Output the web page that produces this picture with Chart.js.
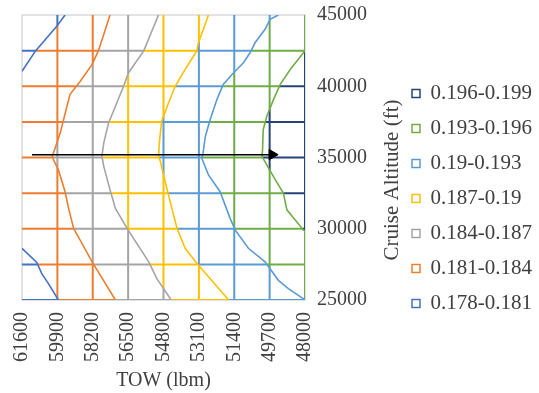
<!DOCTYPE html>
<html>
<head>
<meta charset="utf-8">
<script src="https://cdn.jsdelivr.net/npm/chart.js@4.4.1/dist/chart.umd.min.js"></script>
<style>
  html, body { margin: 0; padding: 0; background: #fff; }
  #wrap { width: 539px; height: 393px; }
</style>
</head>
<body>
<div id="wrap"><canvas id="chart"></canvas></div>
<script>
// axis ticks
const xTicks = [61600, 59900, 58200, 56500, 54800, 53100, 51400, 49700, 48000];
const yTicks = [25000, 30000, 35000, 40000, 45000];
// wireframe lines (left edge and top edge are the plot border)
const gridTows = [59900, 58200, 56500, 54800, 53100, 51400, 49700, 48000];
const gridAlts = [25000, 27500, 30000, 32500, 35000, 37500, 40000, 42500];

const bands = ["0.178-0.181", "0.181-0.184", "0.184-0.187", "0.187-0.19", "0.19-0.193", "0.193-0.196", "0.196-0.199"];
const bandColors = ["#4472C4", "#ED7D31", "#A5A5A5", "#FFC000", "#5B9BD5", "#70AD47", "#264478"];

// contour lines [TOW, altitude]
const c181top = [[59530, 45000], [59920, 44230], [60950, 42480], [61600, 41050]];
const c181bottom = [[61600, 28630], [60890, 27630], [60650, 26850], [60330, 26150], [59850, 25000]];
const c184 = [[57370, 45000], [57930, 42480], [58230, 41530], [58800, 40350], [59290, 39430], [59440, 38600], [59760, 36730], [60090, 35300], [60150, 35130], [60090, 34850], [59850, 34130], [59530, 32600], [59360, 31430], [59120, 30030], [58230, 27680], [57110, 25000]];
const c187 = [[55040, 45000], [55750, 42480], [56480, 40950], [56720, 40000], [57110, 38600], [57440, 37430], [57670, 36030], [57760, 35080], [57670, 34380], [57370, 32730], [57110, 31430], [56550, 30030], [55510, 27680], [55120, 26500], [54430, 25000]];
const c190 = [[52640, 45000], [53120, 43050], [53200, 42480], [53760, 41180], [54240, 40000], [54560, 38830], [54890, 37530], [55000, 36030], [55040, 35080], [54950, 34730], [54800, 33780], [54480, 31900], [54150, 30030], [53760, 28630], [53200, 27580], [51670, 25000]];
const c193 = [[49280, 45000], [49680, 44700], [49920, 44000], [50400, 43050], [50640, 42350], [50960, 41650], [51430, 40950], [51930, 40130], [52230, 39080], [52560, 37650], [52790, 36480], [52910, 35200], [52960, 34950], [52640, 33780], [52080, 32600], [51600, 30730], [51350, 29900], [50720, 28630], [49920, 27680], [49280, 26380], [48800, 25800], [48090, 25100], [48000, 25000]];
const c196 = [[48000, 42500], [48710, 41180], [49190, 40130], [49510, 39080], [49840, 37880], [50010, 36950], [50040, 35550], [50070, 35080], [49750, 34250], [49280, 33080], [49040, 32500], [48870, 31330], [48070, 29900], [48000, 29850]];

// arrow annotation
const arrowLine = [[61120, 35200], [49580, 35200]];

const FONT = "'Liberation Serif', 'Times New Roman', serif";
const TEXT = "#404040";

// level i separates band i and band i+1; "outside" = boundary where the line is missing
const contours = [
  { pieces: [c181top, c181bottom], outside: Infinity },
  { pieces: [c184], outside: Infinity },
  { pieces: [c187], outside: Infinity },
  { pieces: [c190], outside: Infinity },
  { pieces: [c193], outside: Infinity },
  { pieces: [c196], outside: -Infinity },
];

function boundaryTow(c, alt) {
  for (const piece of c.pieces) {
    for (let i = 0; i < piece.length - 1; i++) {
      const [t0, a0] = piece[i];
      const [t1, a1] = piece[i + 1];
      if (a0 !== a1 && (alt - a0) * (alt - a1) <= 0) {
        return t0 + ((t1 - t0) * (alt - a0)) / (a1 - a0);
      }
    }
  }
  return c.outside;
}

// value goes up as TOW goes down
function bandAt(tow, alt) {
  let b = 0;
  contours.forEach((c) => {
    if (tow < boundaryTow(c, alt)) b++;
  });
  return b;
}

// split a grid line into pieces of one band each
function splitLine(p0, p1, out) {
  const at = (s) => [p0[0] + (p1[0] - p0[0]) * s, p0[1] + (p1[1] - p0[1]) * s];
  const n = 600;
  let start = 0;
  let band = bandAt(...at(0));
  let prev = 0;
  for (let i = 1; i <= n; i++) {
    const s = i / n;
    const b = bandAt(...at(s));
    if (b !== band) {
      let lo = prev, hi = s;
      for (let k = 0; k < 30; k++) {
        const m = (lo + hi) / 2;
        if (bandAt(...at(m)) === band) lo = m;
        else hi = m;
      }
      out[band].push(at(start), at(lo), null);
      start = lo;
      band = b;
    }
    prev = s;
  }
  out[band].push(at(start), at(1), null);
}

const gridByBand = bands.map(() => []);
gridAlts.forEach((a) => splitLine([61600, a], [48000, a], gridByBand));
gridTows.forEach((t) => splitLine([t, 25000], [t, 45000], gridByBand));

const toXY = (pts) => pts.map((p) => (p ? { x: p[0], y: p[1] } : { x: 0, y: null }));

const datasets = [];

datasets.push({
  data: toXY(arrowLine),
  borderColor: "#000",
  backgroundColor: "#000",
  borderWidth: 1.5,
  pointStyle: "triangle",
  pointRotation: 90,
  pointRadius: [0, 6],
  pointBorderWidth: 1,
  order: 0,
});

contours.forEach((c, i) => {
  c.pieces.forEach((piece) => {
    datasets.push({
      data: toXY(piece),
      borderColor: bandColors[i],
      borderWidth: 1.6,
      pointRadius: 0,
      order: 1,
    });
  });
});

gridByBand.forEach((pts, i) => {
  datasets.push({
    data: toXY(pts),
    borderColor: bandColors[i],
    borderWidth: 2,
    pointRadius: 0,
    spanGaps: false,
    order: 2,
  });
});

const framePlugin = {
  id: "frame",
  beforeDatasetsDraw(chart) {
    const { ctx, chartArea: a } = chart;
    ctx.save();
    ctx.strokeStyle = "#D9D9D9";
    ctx.lineWidth = 1.5;
    ctx.strokeRect(a.left, a.top, a.right - a.left, a.bottom - a.top);
    ctx.restore();
  },
};

// y title reads bottom to top on the right side
const yTitlePlugin = {
  id: "yTitle",
  afterDraw(chart) {
    const { ctx } = chart;
    const s = chart.scales.y;
    ctx.save();
    ctx.translate(s.right - 6, 180);
    ctx.rotate(-Math.PI / 2);
    ctx.font = "21px " + FONT;
    ctx.fillStyle = TEXT;
    ctx.textAlign = "center";
    ctx.textBaseline = "middle";
    ctx.fillText("Cruise Altitude (ft)", 0, 0);
    ctx.restore();
  },
};

new Chart(document.getElementById("chart"), {
  type: "scatter",
  data: { datasets: datasets.map((d) => ({ showLine: true, ...d })) },
  plugins: [framePlugin, yTitlePlugin],
  options: {
    responsive: true,
    maintainAspectRatio: false,
    animation: false,
    // wide negative left padding so the legend gets room; plot left edge is set by the x axis
    layout: { padding: { left: -40, right: -3, top: 4, bottom: 0 } },
    scales: {
      x: {
        type: "linear",
        reverse: true,
        min: 48000,
        max: 61600,
        afterBuildTicks: (s) => {
          s.ticks = xTicks.map((v) => ({ value: v }));
        },
        afterFit: (s) => {
          s.paddingLeft = 22;
        },
        ticks: {
          minRotation: 90,
          maxRotation: 90,
          autoSkip: false,
          padding: 12,
          color: TEXT,
          font: { family: FONT, size: 20 },
          callback: (v) => String(v),
        },
        grid: { display: false, drawTicks: false },
        border: { display: false },
        title: {
          display: true,
          text: "TOW (lbm)",
          color: TEXT,
          font: { family: FONT, size: 20 },
          padding: { top: -5, bottom: 0 },
        },
      },
      y: {
        type: "linear",
        position: "right",
        min: 25000,
        max: 45000,
        afterBuildTicks: (s) => {
          s.ticks = yTicks.map((v) => ({ value: v }));
        },
        afterFit: (s) => {
          s.width += 19;
        },
        ticks: {
          padding: 12,
          color: TEXT,
          font: { family: FONT, size: 20, lineHeight: 0.3 },
          callback: (v) => String(v),
        },
        grid: { display: false, drawTicks: false },
        border: { display: false },
      },
    },
    plugins: {
      legend: {
        position: "right",
        onClick: null,
        labels: {
          boxWidth: 8,
          boxHeight: 8,
          padding: 14,
          color: TEXT,
          font: { family: FONT, size: 21 },
          generateLabels: () =>
            bands
              .map((b, i) => ({
                text: b,
                fillStyle: "#fff",
                strokeStyle: bandColors[i],
                lineWidth: 1.5,
                fontColor: TEXT,
                hidden: false,
              }))
              .reverse(),
        },
      },
      tooltip: { enabled: false },
    },
  },
});
</script>
</body>
</html>
